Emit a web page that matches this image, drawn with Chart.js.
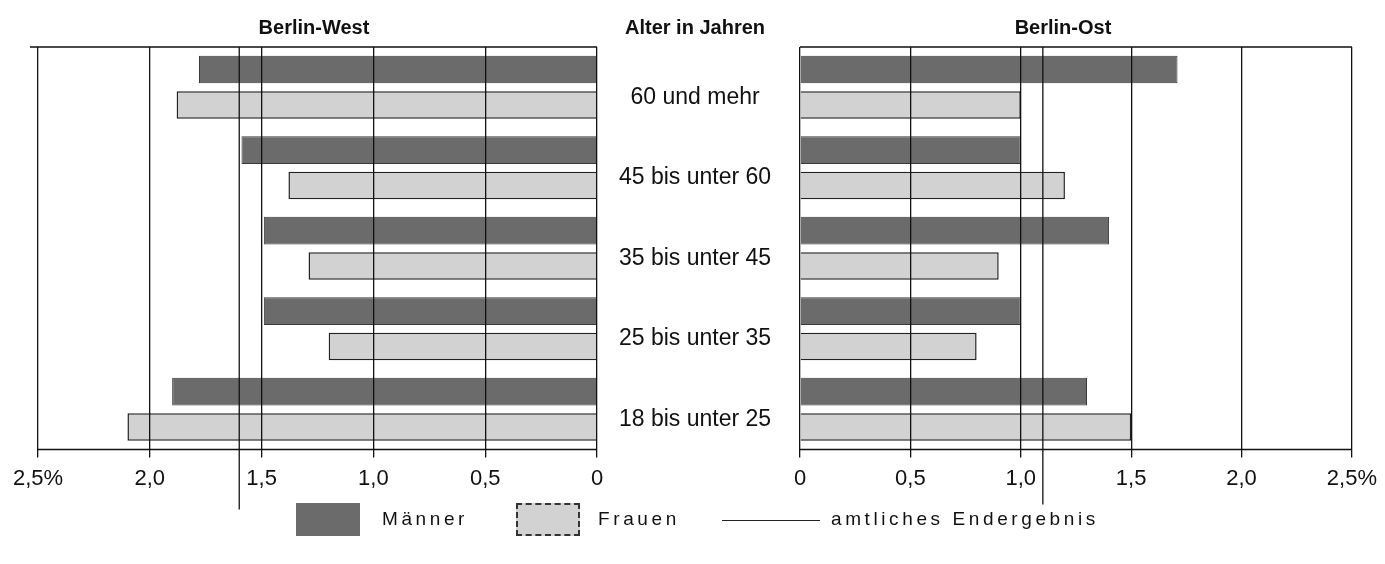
<!DOCTYPE html>
<html>
<head>
<meta charset="utf-8">
<script src="https://cdn.jsdelivr.net/npm/chart.js@4.4.1/dist/chart.umd.min.js"></script>
<style>
  body { margin: 0; background: #fff; width: 1385px; height: 564px; position: relative; overflow: hidden; font-family: "Liberation Sans", Arial, sans-serif; }
  canvas { position: absolute; top: 0; }
  .head { position: absolute; top: 16px; font-weight: bold; font-size: 20px; color: #111; transform: translateX(-50%); white-space: nowrap; }
  .leg { position: absolute; font-size: 19px; letter-spacing: 3.6px; color: #111; white-space: nowrap; }
  .box { position: absolute; top: 503px; width: 64px; height: 33px; }
</style>
</head>
<body>
<canvas id="westChart" width="785" height="520" style="left:0"></canvas>
<canvas id="ostChart" width="600" height="520" style="left:785px"></canvas>

<div class="head" style="left:314px">Berlin-West</div>
<div class="head" style="left:695px">Alter in Jahren</div>
<div class="head" style="left:1063px">Berlin-Ost</div>

<div class="box" style="left:296px;background:#6b6b6b"></div>
<div class="leg" style="left:382px;top:508px">Männer</div>
<div class="box" style="left:516px;background:#d2d2d2;border:2px dashed #333;box-sizing:border-box"></div>
<div class="leg" style="left:598px;top:508px">Frauen</div>
<div style="position:absolute;left:722px;top:520px;width:98px;height:1px;background:#222"></div>
<div class="leg" style="left:831px;top:508px">amtliches Endergebnis</div>

<script>
// Stimmenanteile nach Alter (in %)
const ageGroups = ['60 und mehr', '45 bis unter 60', '35 bis unter 45', '25 bis unter 35', '18 bis unter 25'];
const westMaenner = [1.78, 1.59, 1.49, 1.49, 1.9];
const westFrauen = [1.88, 1.38, 1.29, 1.2, 2.1];
const ostMaenner = [1.71, 1.0, 1.4, 1.0, 1.3];
const ostFrauen = [1.0, 1.2, 0.9, 0.8, 1.5];
const officialWest = 1.6;
const officialOst = 1.1;
const xMax = 2.5;

const tickFont = { family: '"Liberation Sans", Arial, sans-serif', size: 22 };

function fmtTick(v) {
  if (v === 0) return '0';
  return v.toFixed(1).replace('.', ',') + (v === xMax ? '%' : '');
}

// Rahmen oben/unten + Linie "amtliches Endergebnis"
const framePlugin = {
  id: 'frame',
  afterDatasetsDraw(chart, args, opts) {
    const ctx = chart.ctx;
    const area = chart.chartArea;
    const x = chart.scales.x;
    ctx.save();
    ctx.strokeStyle = '#111';
    ctx.lineWidth = 1.5;
    ctx.beginPath();
    ctx.moveTo(area.left - (opts.extendLeft || 0), area.top);
    ctx.lineTo(area.right, area.top);
    ctx.moveTo(area.left, area.bottom);
    ctx.lineTo(area.right, area.bottom);
    ctx.stroke();
    const px = x.getPixelForValue(opts.official);
    ctx.lineWidth = 1.3;
    ctx.beginPath();
    ctx.moveTo(px, area.top);
    ctx.lineTo(px, area.bottom + opts.below);
    ctx.stroke();
    ctx.restore();
  }
};

function makeDatasets(m, f) {
  return [
    {
      label: 'Männer',
      data: m,
      backgroundColor: '#6b6b6b',
      borderColor: '#3a3a3a',
      borderWidth: 1,
      categoryPercentage: 0.88,
      barPercentage: 0.78
    },
    {
      label: 'Frauen',
      data: f,
      backgroundColor: '#d2d2d2',
      borderColor: '#222',
      borderWidth: 1.5,
      categoryPercentage: 0.88,
      barPercentage: 0.78
    }
  ];
}

function xScale(reverse) {
  return {
    type: 'linear',
    reverse: reverse,
    min: 0,
    max: xMax,
    ticks: { stepSize: 0.5, color: '#111', font: tickFont, padding: 8, callback: fmtTick },
    grid: { color: '#111', lineWidth: 1.3, z: 1, tickLength: 8, tickColor: '#111' },
    border: { display: false }
  };
}

new Chart(document.getElementById('westChart'), {
  type: 'bar',
  data: { labels: ageGroups, datasets: makeDatasets(westMaenner, westFrauen) },
  options: {
    indexAxis: 'y',
    responsive: false,
    animation: false,
    layout: { padding: { left: 38, top: 47, bottom: 20, right: 0 } },
    scales: {
      x: xScale(true),
      y: {
        position: 'right',
        grid: { display: false },
        border: { display: false },
        ticks: { color: '#111', font: { family: tickFont.family, size: 23 }, crossAlign: 'center', labelOffset: 10, padding: 14 },
        afterFit(scale) { scale.width = 188; }
      }
    },
    plugins: {
      legend: { display: false },
      tooltip: { enabled: false },
      frame: { official: officialWest, below: 60, extendLeft: 8 }
    }
  },
  plugins: [framePlugin]
});

new Chart(document.getElementById('ostChart'), {
  type: 'bar',
  data: { labels: ageGroups, datasets: makeDatasets(ostMaenner, ostFrauen) },
  options: {
    indexAxis: 'y',
    responsive: false,
    animation: false,
    layout: { padding: { left: 15, top: 47, bottom: 20, right: 17 } },
    scales: {
      x: xScale(false),
      y: { display: false }
    },
    plugins: {
      legend: { display: false },
      tooltip: { enabled: false },
      frame: { official: officialOst, below: 55, extendLeft: 0 }
    }
  },
  plugins: [framePlugin]
});
</script>
</body>
</html>
